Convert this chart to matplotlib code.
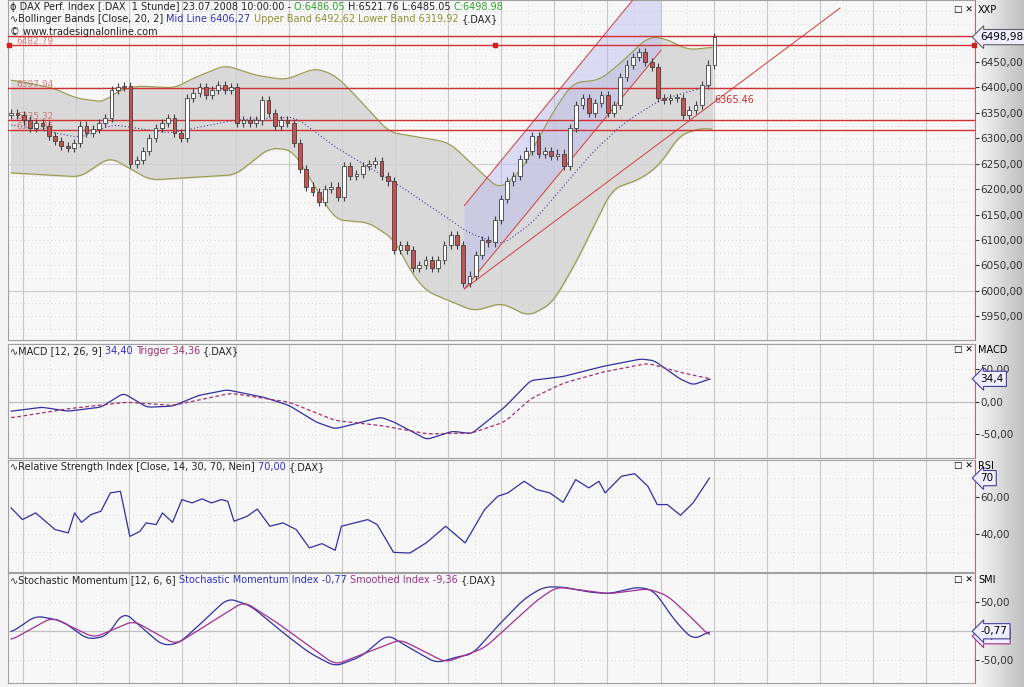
import numpy as np
import pandas as pd
import matplotlib
matplotlib.use("Agg")
import matplotlib.pyplot as plt
from matplotlib.patches import Rectangle, Polygon
from matplotlib.ticker import FuncFormatter, FixedLocator

# DAX 1h closes (one per candle)
closes = [6350, 6345, 6335, 6320, 6330, 6325, 6305, 6295, 6285, 6280,
          6290, 6325, 6310, 6318, 6330, 6340, 6395, 6400, 6402, 6250,
          6258, 6275, 6300, 6320, 6330, 6340, 6310, 6300, 6380, 6390,
          6400, 6385, 6395, 6405, 6395, 6400, 6330, 6335, 6330, 6335,
          6375, 6350, 6325, 6335, 6330, 6290, 6240, 6205, 6195, 6175,
          6200, 6205, 6185, 6245, 6225, 6230, 6245, 6250, 6255, 6225,
          6215, 6080, 6090, 6080, 6045, 6050, 6060, 6045, 6060, 6090,
          6110, 6090, 6015, 6030, 6070, 6100, 6095, 6140, 6180, 6215,
          6225, 6260, 6275, 6305, 6270, 6275, 6265, 6270, 6245, 6320,
          6365, 6380, 6350, 6370, 6385, 6350, 6365, 6420, 6445, 6460,
          6470, 6450, 6440, 6380, 6375, 6380, 6380, 6345, 6355, 6365,
          6405, 6445, 6499]
first_open = 6345
wick = 8

# Bollinger bands (bar, price)
bb_up_x = [0, 6.7, 10.3, 15.1, 16.2, 19.8, 26.2, 28.4, 34.1, 38.9, 43.7, 48.4, 51.6, 54.3,
           60.2, 67.5, 69.8, 74.9, 77.8, 81.3, 86.2, 89.4, 93.8, 97.6, 101.4, 104, 107.8, 111.6]
bb_up = [6415, 6399, 6379, 6371, 6389, 6403, 6399, 6415, 6444, 6424, 6415, 6438, 6424, 6391,
         6312, 6297, 6291, 6232, 6199, 6238, 6350, 6409, 6415, 6454, 6499, 6497, 6474, 6479]
bb_lo_x = [0, 11, 15.7, 22.1, 35.7, 41.1, 44.8, 51.6, 57, 61.1, 63.5, 66, 73.7, 78.1, 82.4,
           86.2, 90, 95.7, 100.2, 103.3, 106.5, 110.3, 111.6]
bb_lo = [6232, 6224, 6263, 6218, 6228, 6281, 6277, 6140, 6134, 6100, 6040, 6000, 5960, 5976,
         5950, 5976, 6057, 6200, 6220, 6248, 6307, 6321, 6317]
bb_mid_x = [0, 11, 16.2, 25.2, 35.7, 45.2, 51.6, 62.2, 72.9, 78.1, 83, 92.5, 97.6, 103.3, 111.6]
bb_mid = [6327, 6301, 6327, 6310, 6336, 6342, 6283, 6204, 6114, 6090, 6134, 6271, 6330, 6375, 6405]

# MACD / trigger
macd_x = [0, 4.9, 9, 14.3, 17.9, 21.6, 25.7, 29.8, 34.4, 40.2, 44.3, 48.6, 51.6, 58.9, 61,
          66.2, 70.3, 73.3, 78.6, 82.7, 87.9, 94.1, 100.3, 102.4, 106.5, 108.6, 111.3]
macd = [-14.7, -8.6, -14.7, -8.6, 12.6, -8.6, -7.1, 9.1, 17.7, 6.6, -6.1, -31.3, -41.4, -23.7,
        -31.3, -57.6, -45, -49, -8.6, 31.8, 37.9, 53, 64.6, 62, 34.3, 25.3, 34.4]
trig_x = [0, 9, 18.4, 25.7, 35, 44.3, 51.6, 58.9, 66.2, 73.3, 78.6, 82.7, 87.9, 94.1, 101.4,
          106.5, 111.3]
trig = [-24.7, -11, -1, -6, 12.6, -1, -28.8, -36.4, -49, -48, -31, 4, 27.7, 44.4, 58, 44.4, 34.4]

# RSI
rsi_x = [0, 1.8, 3.9, 7, 9.1, 10.1, 11.2, 12.7, 14.3, 15.8, 17.4, 18.9, 20.5, 21.5, 23.1, 24.1,
         25.7, 27.2, 28.8, 30.4, 31.9, 33.5, 34.5, 35.5, 37.6, 39.2, 41.2, 43.3, 45.4, 47.5,
         49.5, 51.6, 52.6, 54.7, 56.8, 58.3, 60.9, 63.5, 66.1, 69.2, 72.3, 75.4, 77.5, 79.1,
         81.7, 83.7, 85.8, 87.9, 89.9, 92, 93.6, 94.6, 97.2, 99.3, 101.4, 102.9, 104.5, 106.6,
         108.6, 111.2]
rsi = [53.9, 47.6, 51.2, 42.2, 40.4, 51.2, 46.1, 50.3, 52.1, 62, 62.9, 38.5, 41.2, 45.8, 44.9,
       51.2, 46.1, 58.4, 56.6, 58.8, 56.6, 58.4, 57.5, 46.7, 49.4, 53.3, 44, 45.8, 42.2, 32.3,
       34.6, 31, 44, 45.8, 47.6, 44.9, 29.9, 29.5, 35, 44, 35, 53, 60.2, 62, 68.3, 63.8, 62,
       56.9, 69.2, 64.7, 68.3, 62, 71, 72.4, 65.6, 55.7, 55.7, 49.9, 56.6, 70]

# Stochastic Momentum Index
smi_x = [0, 3.9, 8.1, 12.2, 15.3, 17.9, 20.5, 24.1, 26.7, 29.8, 34.5, 38.1, 43.3, 47.5, 51.6,
         55.8, 59.9, 63, 67.7, 71.3, 73.4, 77.5, 81.7, 84.8, 87.9, 92, 95.2, 99.8, 102.4, 105.5,
         108.6, 111.2]
smi = [-3.2, 26, 17.3, -14.9, -9.1, 33.6, 8.5, -25.4, -21.9, 8.5, 56.5, 43.6, -3.2, -38.2,
       -61.6, -44.2, -6.1, -26.6, -55.8, -44.2, -41.2, 8.5, 55.3, 75.8, 75.8, 67, 64, 75.8,
       69.8, 20.2, -16.1, -0.77]
smi_s_x = [0, 6.5, 13.2, 19.5, 26.2, 37.1, 42.3, 51.6, 62, 69.2, 75.4, 83.7, 86.9, 95.2, 101.4,
           104.5, 108.6, 111.2]
smi_s = [-16.1, 23.2, -11.9, 17.3, -23.7, 50.6, 14.4, -58.8, -14.9, -54.7, -29.5, 52.5, 75.8,
         64, 72.8, 61.1, 20.2, -9.36]

# horizontal lines (price) and their left labels
h_lines = [6500.5, 6482.79, 6397.94, 6335.32, 6316.0]
h_labels = {6482.79: "6482.79", 6397.94: "6397.94", 6335.32: "6335.32", 6316.0: "6316.86"}
# trend lines as (bar, price) pairs
chan_upper = [(72.2, 6168), (99, 6572)]
chan_lower = [(72.2, 6004), (103.5, 6473)]
fan_line = [(72.2, 6004), (111.7, 6365.46), (132, 6556)]
dot_bars = [-0.4, 77, 153.3]
n_bars_axis = 153.5


def smooth(xs, ys, win=9):
    # dense linear trace, then a short moving average so the curve is rounded
    gx = np.linspace(xs[0], xs[-1], 600)
    gy = np.interp(gx, xs, ys)
    pad = np.pad(gy, win, mode="edge")
    k = np.ones(win) / win
    return gx, np.convolve(pad, k, mode="same")[win:-win]


c = pd.Series(closes, dtype=float)
o = c.shift(1).fillna(first_open)
hi = np.maximum(o, c) + wick
lo = np.minimum(o, c) - wick
x = np.arange(len(c))

fig = plt.figure(figsize=(10.24, 6.87), dpi=100)
fig.patch.set_facecolor("#f4f4f4")
L, W = 8 / 1024, 967 / 1024
ax_p = fig.add_axes([L, 0.505, W, 0.495])
ax_m = fig.add_axes([L, 0.333, W, 0.167])
ax_r = fig.add_axes([L, 0.168, W, 0.163])
ax_s = fig.add_axes([L, 0.006, W, 0.160])
ax_g = fig.add_axes([975 / 1024, 0, 49 / 1024, 1])
ax_g.imshow(np.linspace(0.97, 0.75, 50)[None, :], cmap="gray", vmin=0, vmax=1,
            aspect="auto", extent=[0, 1, 0, 1])
ax_g.axis("off")
ax_g.set_zorder(-1)

de = lambda v, nd=2: (f"{v:.{nd}f}").replace(".", ",")
vgrid = np.arange(1.9, n_bars_axis, 8.46)

for ax in (ax_p, ax_m, ax_r, ax_s):
    ax.set_facecolor("#f7f7f7")
    ax.set_xlim(-0.5, n_bars_axis)
    ax.yaxis.tick_right()
    ax.tick_params(axis="y", labelsize=7.5, colors="#333333", length=3, pad=1)
    ax.tick_params(axis="x", length=0, labelbottom=False)
    for v in vgrid:
        ax.axvline(v, color="#c8c8c8", lw=0.8, zorder=0)
    for v in vgrid + 4.23:
        ax.axvline(v, color="#d8d8d8", lw=0.7, ls=(0, (1, 3)), zorder=0)
    for s in ax.spines.values():
        s.set_color("#a0a0a0")
    ax.spines["right"].set_color("#d06060")
    ax.yaxis.set_major_formatter(FuncFormatter(lambda v, p: de(v)))

# ---- price pane ----
ax_p.set_ylim(5903, 6572)
ax_p.yaxis.set_major_locator(FixedLocator(np.arange(5950, 6500, 50)))
for yv in np.arange(5925, 6575, 25):
    ax_p.axhline(yv, color="#d4d4d4", lw=0.7, ls=(0, (1, 3)), zorder=0)
for yv in (6000, 6250):
    ax_p.axhline(yv, color="#cfcfcf", lw=0.9, zorder=0)
ux, uy = smooth(bb_up_x, bb_up, 15)
lx, ly = smooth(bb_lo_x, bb_lo, 15)
mx, my = smooth(bb_mid_x, bb_mid, 15)
ax_p.fill_between(ux, np.interp(ux, lx, ly), uy, color="#d2d2d2", alpha=0.8, zorder=1)
ax_p.plot(ux, uy, color="#9a9a4a", lw=0.8, zorder=2)
ax_p.plot(lx, ly, color="#9a9a4a", lw=0.8, zorder=2)
ax_p.plot(mx, my, color="#4040a0", lw=0.8, ls=(0, (1, 2)), zorder=2)

(x0, y0), (x1, y1) = chan_upper
(_, z0), (x2, z1) = chan_lower
ku = (y1 - y0) / (x1 - x0)
xr = x2
poly = [(x0, y0), (x1, y1), (xr, y0 + ku * (xr - x0)), (xr, z1), (x0, z0)]
ax_p.add_patch(Polygon(poly, closed=True, color="#b8b8f0", alpha=0.45, lw=0, zorder=1.5))
ax_p.plot([x0, x0 + (6700 - y0) / ku], [y0, 6700], color="#d05050", lw=0.8, zorder=3)
ax_p.plot([x0, x2], [z0, z1], color="#d05050", lw=0.8, zorder=3)
fx, fy = zip(*fan_line)
ax_p.plot([fx[0], fx[2]], [fy[0], fy[2]], color="#d05050", lw=0.8, zorder=3)
ax_p.text(fx[1] + 0.3, fy[1], "6365.46", color="#c03030", fontsize=7, va="bottom")

for hv in h_lines:
    ax_p.axhline(hv, color="#d03030", lw=1.0, zorder=3)
    if hv in h_labels:
        ax_p.text(0.8, hv + 3, h_labels[hv], color="#d06060", fontsize=6.5, zorder=4, alpha=0.8)
ax_p.plot(dot_bars, [6482.79] * 3, "s", color="#d02020", ms=2.5, zorder=5, clip_on=False)

for i in range(len(c)):
    rising = c[i] >= o[i]
    ax_p.vlines(x[i], lo[i], hi[i], color="#404040", lw=0.8, zorder=4)
    b0, b1 = min(o[i], c[i]), max(o[i], c[i])
    ax_p.add_patch(Rectangle((x[i] - 0.3, b0), 0.6, max(b1 - b0, 1.5),
                             facecolor="white" if rising else "#c85050",
                             edgecolor="#404040", lw=0.6, zorder=5))

# ---- MACD ----
ax_m.set_ylim(-86, 88)
ax_m.yaxis.set_major_locator(FixedLocator([-50, 0, 50]))
for yv in (-50, 25, 50, -25):
    ax_m.axhline(yv, color="#d4d4d4", lw=0.7, ls=(0, (1, 3)), zorder=0)
ax_m.axhline(0, color="#c0c0c0", lw=0.9, zorder=0)
ax_m.plot(*smooth(macd_x, macd, 7), color="#3030a0", lw=0.9)
ax_m.plot(*smooth(trig_x, trig, 11), color="#a03070", lw=0.9, ls=(0, (3, 2)))

# ---- RSI ----
ax_r.set_ylim(19.5, 80)
ax_r.yaxis.set_major_locator(FixedLocator([40, 60]))
for yv in (30, 40, 50, 60, 70):
    ax_r.axhline(yv, color="#d4d4d4", lw=0.7, ls=(0, (1, 3)), zorder=0)
ax_r.plot(rsi_x, rsi, color="#3030a0", lw=0.9)

# ---- SMI ----
ax_s.set_ylim(-90, 100)
ax_s.yaxis.set_major_locator(FixedLocator([-50, 50]))
for yv in (-50, 50):
    ax_s.axhline(yv, color="#d4d4d4", lw=0.7, ls=(0, (1, 3)), zorder=0)
ax_s.axhline(0, color="#c0c0c0", lw=0.9, zorder=0)
ax_s.plot(*smooth(smi_x, smi, 13), color="#3030a0", lw=0.9)
ax_s.plot(*smooth(smi_s_x, smi_s, 13), color="#a03090", lw=0.9)

def tag(ax, val, txt, ec="#4040a0"):
    ax.annotate(txt, xy=(1.0, val), xycoords=("axes fraction", "data"),
                xytext=(4, 0), textcoords="offset points", fontsize=7.5, va="center",
                bbox=dict(boxstyle="larrow,pad=0.25", fc="#eeeeff", ec=ec, lw=0.8),
                annotation_clip=False)

tag(ax_s, smi_s[-1], de(smi_s[-1]), ec="#a03090")
tag(ax_p, closes[-1], "6498,98", ec="#606060")
tag(ax_m, macd[-1], de(macd[-1], 1))
tag(ax_r, rsi[-1], f"{rsi[-1]:.0f}")
tag(ax_s, smi[-1], de(smi[-1]))

fs = 7
r = fig.canvas.get_renderer()

def header_row(ax, parts, y_frac):
    xo = 0.002
    for s, col in parts:
        t = ax.text(xo, y_frac, s, transform=ax.transAxes, fontsize=fs, va="top", color=col, zorder=10)
        bb = t.get_window_extent(renderer=r)
        xo += bb.width / ax.get_window_extent(renderer=r).width

header_row(ax_p, [("\u03d5 DAX Perf. Index [.DAX  1 Stunde] 23.07.2008 10:00:00 - ", "#222222"),
                  ("O:6486.05 ", "#30a030"), ("H:6521.76 L:6485.05 ", "#222222"),
                  ("C:6498.98", "#30a030")], 0.995)
header_row(ax_p, [("\u223fBollinger Bands [Close, 20, 2] ", "#222222"),
                  ("Mid Line 6406,27 ", "#3030c0"), ("Upper Band 6492,62 ", "#909030"),
                  ("Lower Band 6319,92 ", "#909030"), ("{.DAX}", "#222222")], 0.958)
header_row(ax_p, [("\u00a9 www.tradesignalonline.com", "#222222")], 0.921)
header_row(ax_m, [("\u223fMACD [12, 26, 9] ", "#222222"), ("34,40 ", "#3030c0"),
                  ("Trigger 34,36 ", "#a03070"), ("{.DAX}", "#222222")], 0.98)
header_row(ax_r, [("\u223fRelative Strength Index [Close, 14, 30, 70, Nein] ", "#222222"),
                  ("70,00 ", "#3030c0"), ("{.DAX}", "#222222")], 0.98)
header_row(ax_s, [("\u223fStochastic Momentum [12, 6, 6] ", "#222222"),
                  ("Stochastic Momentum Index -0,77 ", "#3030c0"),
                  ("Smoothed Index -9,36 ", "#a03090"), ("{.DAX}", "#222222")], 0.98)

for ax, name in ((ax_p, "XXP"), (ax_m, "MACD"), (ax_r, "RSI"), (ax_s, "SMI")):
    ax.text(1.003, 0.985, name, transform=ax.transAxes, fontsize=7, va="top")
    ax.text(0.998, 0.985, "\u25a1 \u2715", transform=ax.transAxes, fontsize=6.5, va="top", ha="right")

fig.savefig("out.png", dpi=100)
